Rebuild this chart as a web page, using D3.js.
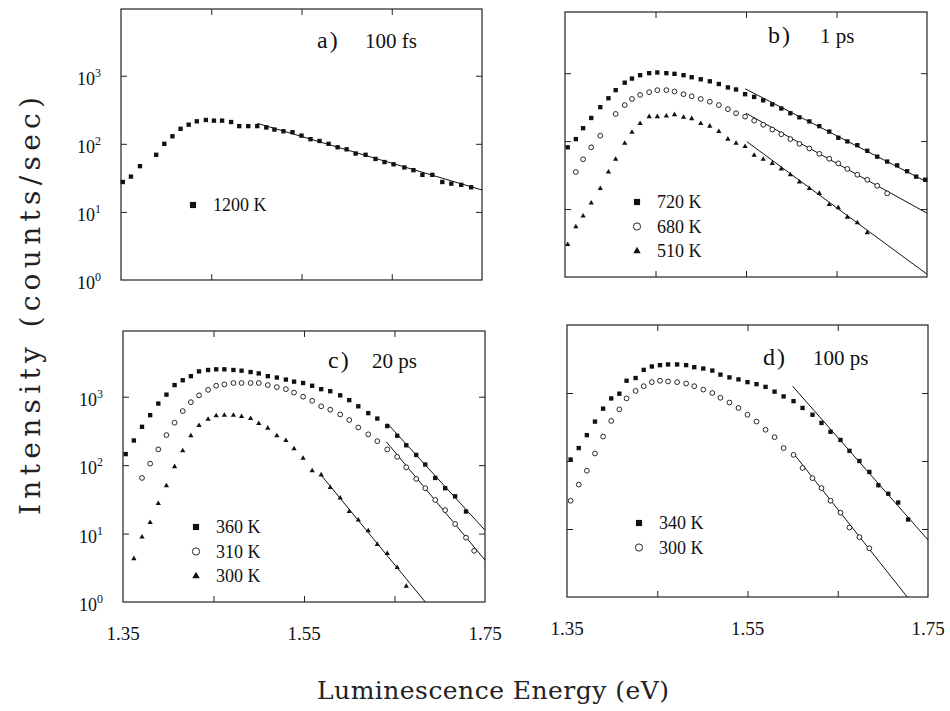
<!DOCTYPE html>
<html>
<head>
<meta charset="utf-8">
<script src="https://cdn.jsdelivr.net/npm/d3@7/dist/d3.min.js"></script>
<style>
  body { margin: 0; background: #fff; }
  svg { display: block; }
  text { font-family: "Liberation Serif", "DejaVu Serif", serif; fill: #111; }
  text.title { font-family: "DejaVu Serif", "Liberation Serif", serif; fill: #222; }
</style>
</head>
<body>
<svg id="chart" width="950" height="711"></svg>
<script>
// ---- data (energy in eV, intensity in counts/sec) ----
const energyA = [1.352,1.361,1.371,1.389,1.398,1.407,1.416,1.425,1.434,1.444,1.453,1.462,1.472,1.481,1.491,1.501,1.511,1.520,1.530,1.540,1.550,1.560,1.570,1.580,1.590,1.600,1.610,1.621,1.632,1.642,1.652,1.664,1.674,1.684,1.695,1.706,1.716,1.727,1.738];
const a1200K = [27.5,33,47,69,100,129,166,191,214,224,219,219,209,182,182,182,174,162,153,148,132,117,110,100,89,83,72,69,60,54,50,45,41,35,35,27.5,26,25,23];

const energyB = [1.353,1.362,1.370,1.379,1.389,1.398,1.406,1.416,1.424,1.433,1.443,1.452,1.462,1.471,1.481,1.490,1.500,1.510,1.520,1.530,1.539,1.549,1.559,1.569,1.579,1.589,1.599,1.609,1.620,1.631,1.642,1.652,1.662,1.673,1.684,1.695,1.706,1.717,1.728,1.738,1.748];
const b720K = [81,107,155,219,316,427,562,724,832,933,1000,1023,1000,977,933,871,813,759,692,617,575,490,447,398,347,302,257,224,195,166,138,112,99,87,72,59,50,44,36,30,27];
const b680K = [null,35,54,81,120,null,251,339,417,479,525,562,562,537,490,457,417,380,339,295,257,229,200,174,148,126,107,91,78,65,55,47,39,32,27,22,17];
const b510K = [3.0,5.5,7.9,12.3,20,35,54,93,135,182,229,229,234,245,224,214,182,166,138,107,93,83,62,54,47,39,32,25,20,17,11.7,10.5,7.6,6.3,4.5];

const energyC = [1.353,1.362,1.371,1.380,1.389,1.398,1.407,1.416,1.425,1.434,1.444,1.453,1.462,1.472,1.481,1.491,1.500,1.510,1.520,1.530,1.539,1.549,1.559,1.569,1.579,1.590,1.600,1.610,1.621,1.631,1.642,1.653,1.663,1.674,1.684,1.695,1.706,1.717,1.729,1.738];
const c360K = [145,229,363,537,794,1072,1479,1738,1995,2344,2455,2512,2512,2455,2399,2291,2188,1995,1905,1778,1660,1585,1445,1288,1202,1047,891,724,575,479,372,269,195,141,102,65,46,35,21,null];
const c310K = [null,null,65,105,170,275,417,617,832,1047,1259,1445,1514,1585,1585,1585,1585,1479,1380,1288,1148,1000,871,724,646,550,457,355,282,224,170,132,93,63,46,31,22,13.8,8.7,5.6];
const c300K = [null,4.3,8.9,14.5,27.5,50,95,162,269,380,468,525,537,537,513,479,407,347,269,229,174,126,83,72,47,33,21,15.8,11,6.9,5.1,3.2,1.7];

const energyD = [1.354,1.363,1.372,1.381,1.390,1.399,1.408,1.416,1.426,1.435,1.444,1.453,1.462,1.472,1.482,1.491,1.501,1.511,1.520,1.530,1.540,1.550,1.560,1.570,1.580,1.590,1.601,1.611,1.622,1.632,1.642,1.653,1.663,1.674,1.685,1.695,1.706,1.717,1.728];
const d340K = [105,155,240,380,589,832,977,1514,1660,2188,2455,2570,2630,2630,2570,2399,2291,2138,1862,1698,1585,1445,1349,1230,1047,891,759,603,479,363,269,204,141,100,69,44,33,24.5,13.8];
const d300K = [26,45,72,129,229,389,575,832,1072,1259,1445,1514,1479,1445,1380,1259,1122,1000,851,724,603,479,380,288,224,155,123,79,56,40,26,17.4,10.5,7.6,5.2];

// straight-line (Maxwell-Boltzmann) fits: [energy, intensity] at both ends
const fitA1200K = [[1.501, 200], [1.75, 21]];
const fitB720K = [[1.549, 589], [1.75, 25]];
const fitB680K = [[1.550, 257], [1.75, 8.7]];
const fitB510K = [[1.551, 98], [1.75, 1.1]];
const fitC360K = [[1.642, 407], [1.75, 11.2]];
const fitC310K = [[1.641, 219], [1.75, 4.1]];
const fitC300K = [[1.568, 74], [1.684, 1.0]];
const fitD340K = [[1.600, 1259], [1.75, 6.9]];
const fitD300K = [[1.601, 129], [1.727, 1.0]];

const panelTags = ["a)", "b)", "c)", "d)"];
const panelDelays = ["100 fs", "1 ps", "20 ps", "100 ps"];
const legendA = ["1200 K"];
const legendB = ["720 K", "680 K", "510 K"];
const legendC = ["360 K", "310 K", "300 K"];
const legendD = ["340 K", "300 K"];
const xTickMarks = [1.45, 1.55, 1.65];
const xTickLabels = [1.35, 1.55, 1.75];
const yDecades = [0, 1, 2, 3];

// ---- layout ----
const panels = [
  { box: [121, 482, 9, 280], topExp: 3.98, energy: energyA,
    series: [a1200K], shapes: ["square"], fits: [fitA1200K], legend: legendA,
    leg: [193, 205], tag: [317, 48], delay: [365, 48], yLabels: true, xLabels: false },
  { box: [565, 927, 12, 277], topExp: 3.9, energy: energyB,
    series: [b720K, b680K, b510K], shapes: ["square", "circle", "triangle"],
    fits: [fitB720K, fitB680K, fitB510K], legend: legendB,
    leg: [637, 202], tag: [768, 43], delay: [820, 43], yLabels: false, xLabels: false },
  { box: [123, 485, 331, 602], topExp: 3.96, energy: energyC,
    series: [c360K, c310K, c300K], shapes: ["square", "circle", "triangle"],
    fits: [fitC360K, fitC310K, fitC300K], legend: legendC,
    leg: [196, 527], tag: [328, 368], delay: [372, 368], yLabels: true, xLabels: true },
  { box: [567, 928, 325, 597], topExp: 4.0, energy: energyD,
    series: [d340K, d300K], shapes: ["square", "circle"],
    fits: [fitD340K, fitD300K], legend: legendD,
    leg: [639, 523], tag: [763, 365], delay: [813, 365], yLabels: false, xLabels: true }
];

const svg = d3.select("#chart");

function marker(g, shape, cx, cy, big) {
  if (shape === "circle") {
    g.append("circle").attr("cx", cx).attr("cy", cy).attr("r", big ? 3.6 : 2.4)
      .attr("fill", "#fff").attr("stroke", "#111").attr("stroke-width", 0.9);
  } else {
    const sym = shape === "square" ? d3.symbolSquare : d3.symbolTriangle;
    const size = shape === "square" ? (big ? 38 : 19) : (big ? 24 : 12);
    g.append("path").attr("d", d3.symbol(sym, size)())
      .attr("transform", "translate(" + cx + "," + cy + ")").attr("fill", "#111");
  }
}

panels.forEach((p, i) => {
  const [x0, x1, y0, y1] = p.box;
  const x = d3.scaleLinear().domain([1.35, 1.75]).range([x0, x1]);
  const y = d3.scaleLog().domain([1, Math.pow(10, p.topExp)]).range([y1, y0]);
  const g = svg.append("g");

  // inward ticks on all four sides
  g.append("g").attr("transform", "translate(0," + y1 + ")")
    .call(d3.axisBottom(x).tickValues(xTickMarks).tickSize(-6).tickFormat(""));
  g.append("g").attr("transform", "translate(0," + y0 + ")")
    .call(d3.axisTop(x).tickValues(xTickMarks).tickSize(-6).tickFormat(""));
  g.append("g").attr("transform", "translate(" + x0 + ",0)")
    .call(d3.axisLeft(y).tickValues([10, 100, 1000]).tickSize(-6).tickFormat(""));
  g.append("g").attr("transform", "translate(" + x1 + ",0)")
    .call(d3.axisRight(y).tickValues([10, 100, 1000]).tickSize(-6).tickFormat(""));
  g.selectAll(".domain").remove();
  g.selectAll(".tick line").attr("stroke", "#222").attr("stroke-width", 1);

  g.append("rect").attr("x", x0).attr("y", y0).attr("width", x1 - x0).attr("height", y1 - y0)
    .attr("fill", "none").attr("stroke", "#222").attr("stroke-width", 1.2);

  // fits
  const line = d3.line().x(d => x(d[0])).y(d => y(d[1]));
  p.fits.forEach(f => {
    g.append("path").attr("d", line(f)).attr("fill", "none")
      .attr("stroke", "#111").attr("stroke-width", 1);
  });

  // data points
  p.series.forEach((vals, si) => {
    vals.forEach((v, k) => {
      if (v == null) return;
      marker(g, p.shapes[si], x(p.energy[k]), y(v), false);
    });
  });

  // legend
  p.legend.forEach((t, li) => {
    const ly = p.leg[1] + li * 24.5;
    marker(g, p.shapes[li], p.leg[0], ly, true);
    g.append("text").attr("x", p.leg[0] + 20).attr("y", ly + 6)
      .attr("font-size", 18).text(t);
  });

  // panel title
  g.append("text").attr("x", p.tag[0]).attr("y", p.tag[1])
    .attr("font-size", 24).attr("letter-spacing", 2).text(panelTags[i]);
  g.append("text").attr("x", p.delay[0]).attr("y", p.delay[1])
    .attr("font-size", 21).text(panelDelays[i]);

  if (p.yLabels) {
    yDecades.forEach(e => {
      const t = g.append("text").attr("x", x0 - 20).attr("y", y(Math.pow(10, e)) + 9)
        .attr("text-anchor", "end").attr("font-size", 18).text("10");
      t.append("tspan").attr("dy", -8).attr("font-size", 12).text(e);
    });
  }
  if (p.xLabels) {
    xTickLabels.forEach(v => {
      g.append("text").attr("x", x(v)).attr("y", y1 + 38)
        .attr("text-anchor", "middle").attr("font-size", 19).text(v.toFixed(2));
    });
  }
});

svg.append("text").attr("class", "title").attr("transform", "translate(40,306) rotate(-90)")
  .attr("text-anchor", "middle").attr("font-size", 28)
  .attr("textLength", 418).attr("lengthAdjust", "spacing")
  .text("Intensity (counts/sec)");

svg.append("text").attr("class", "title").attr("x", 493).attr("y", 699)
  .attr("text-anchor", "middle").attr("font-size", 25)
  .attr("textLength", 352).attr("lengthAdjust", "spacing")
  .text("Luminescence Energy (eV)");
</script>
</body>
</html>
